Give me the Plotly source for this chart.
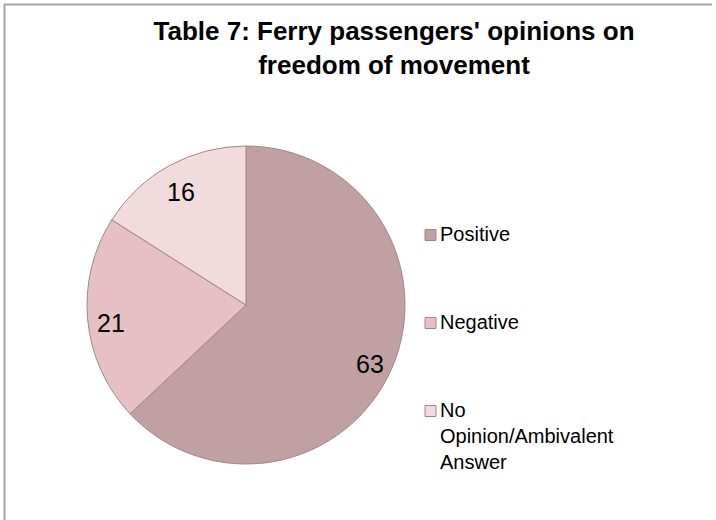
import math
import plotly.graph_objects as go

# ---- data ----
labels = ["Positive", "Negative", "No Opinion/Ambivalent Answer"]
legend_text = ["Positive", "Negative", "No<br>Opinion/Ambivalent<br>Answer"]
values = [63, 21, 16]
colors = ["#c0a0a3", "#e6c0c4", "#f2dbdd"]
title_text = "Table 7: Ferry passengers' opinions on<br>freedom of movement"

W, H = 716, 520
FONT = "Liberation Sans, Arial, sans-serif"
EDGE = "#a3868a"


def px(x):
    return x / W


def py(y):
    return 1 - y / H


# pie geometry (pixels)
cx, cy, r = 246, 305, 159
label_frac = 0.85
label_dy = 5  # visual centring of digits

fig = go.Figure()
fig.add_trace(
    go.Pie(
        labels=labels,
        values=values,
        sort=False,
        direction="clockwise",
        rotation=0,
        marker=dict(colors=colors, line=dict(color=EDGE, width=1)),
        textinfo="none",
        domain=dict(x=[px(cx - r), px(cx + r)], y=[py(cy + r), py(cy - r)]),
        showlegend=False,
        hoverinfo="label+value",
    )
)

annotations = []
shapes = []

# data labels placed on each slice's bisector (computed from the values)
total = sum(values)
cum = 0.0
for v in values:
    mid = (cum + v / 2) / total * 2 * math.pi  # clockwise from 12 o'clock
    annotations.append(dict(
        xref="x", yref="y",
        x=cx + label_frac * r * math.sin(mid),
        y=cy - label_frac * r * math.cos(mid) + label_dy,
        text=str(v), showarrow=False, xanchor="center", yanchor="middle",
        font=dict(family=FONT, size=25, color="#000000"),
    ))
    cum += v

# manual legend (entries built from the label list)
legend_centers = [235, 323, 411]
LEG_FS = 20
for txt, col, yc in zip(legend_text, colors, legend_centers):
    shapes.append(dict(type="rect", xref="paper", yref="paper",
                       x0=px(425), x1=px(436), y0=py(yc + 5.5), y1=py(yc - 5.5),
                       fillcolor=col, line=dict(color=EDGE, width=1)))
    annotations.append(dict(xref="paper", yref="paper", x=px(438), y=py(yc - 14),
                            xanchor="left", yanchor="top", align="left",
                            text=txt, showarrow=False,
                            font=dict(family=FONT, size=LEG_FS, color="#000000")))

# chart frame (top and left visible)
shapes.append(dict(type="path", xref="paper", yref="paper",
                   path=f"M {px(4.5)} {py(520)} L {px(4.5)} {py(4.5)} L {px(712)} {py(4.5)}",
                   line=dict(color="#a6a6a6", width=2)))

fig.update_layout(
    width=W, height=H,
    margin=dict(l=0, r=0, t=0, b=0),
    paper_bgcolor="white",
    plot_bgcolor="rgba(0,0,0,0)",
    xaxis=dict(range=[0, W], visible=False, domain=[0, 1], fixedrange=True),
    yaxis=dict(range=[H, 0], visible=False, domain=[0, 1], fixedrange=True),
    title=dict(text="<b>" + title_text + "</b>", x=px(394), xanchor="center",
               y=py(40), yanchor="top", yref="paper",
               font=dict(family=FONT, size=26, color="#000000")),
    shapes=shapes,
    annotations=annotations,
)

fig.write_html("out.html", config={"displayModeBar": False},
               post_script="document.body.style.margin='0px';")
